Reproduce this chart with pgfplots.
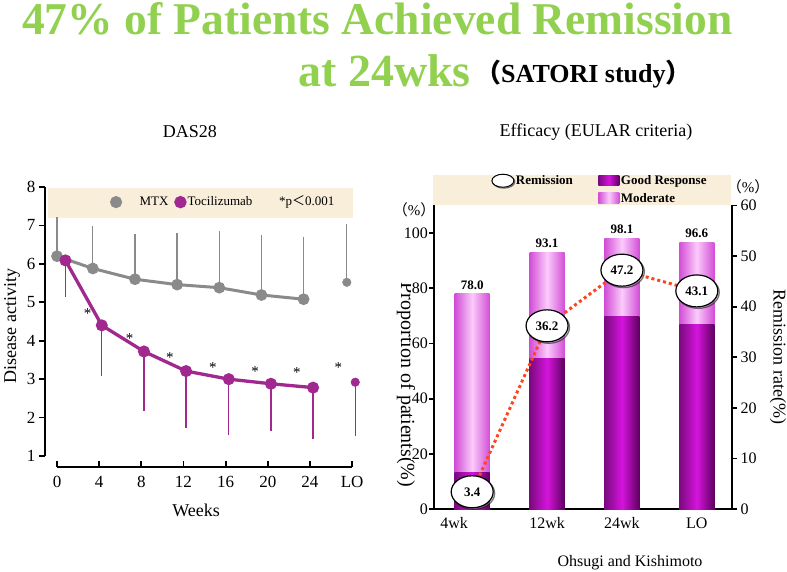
\documentclass[border=0pt]{standalone}
\usepackage{pgfplots}
\pgfplotsset{compat=1.18}
\usepackage{fontspec}
\setmainfont{Liberation Serif}
\newfontfamily\cjk{Noto Sans CJK JP}
\usetikzlibrary{shapes.geometric,shadows}
\newcommand{\fs}[1]{\fontsize{#1}{#1}\selectfont}
\definecolor{ttlgreen}{HTML}{92D050}
\definecolor{band}{HTML}{F8EEDA}
\definecolor{mtx}{HTML}{8A8A8A}
\definecolor{tcz}{HTML}{A0288E}
\definecolor{remred}{HTML}{FF4422}
\definecolor{gd1}{HTML}{7A0A7E}
\definecolor{gd2}{HTML}{D414DC}
\definecolor{gd3}{HTML}{5E005E}
\definecolor{md1}{HTML}{D24ED6}
\definecolor{md2}{HTML}{FBCBFB}
\pgfplotsset{
  goodbar/.style={bar shift=0pt, bar width=35pt, draw=none, left color=gd1, right color=gd3, middle color=gd2},
  modbar/.style={bar shift=0pt, bar width=35pt, draw=none, left color=md1, right color=md1, middle color=md2,
    nodes near coords, point meta=explicit symbolic,
    nodes near coords style={font=\bfseries\fs{13}, anchor=south, yshift=1pt, text=black}},
}
\begin{document}
\begin{tikzpicture}[x=1pt,y=1pt]
\path[use as bounding box] (0pt,0pt) rectangle (787pt,-572pt);
% titles
\node[anchor=base west, inner sep=0, text=ttlgreen, font=\bfseries\fs{45.5}] at (22pt,-35pt) {47\% of Patients Achieved Remission};
\node[anchor=base west, inner sep=0, text=ttlgreen, font=\bfseries\fs{46}] at (298pt,-87pt) {at 24wks};
\node[anchor=base west, inner sep=0, font=\bfseries\fs{26}] at (475pt,-83pt) {{\cjk （}SATORI study{\cjk ）}};
\node[font=\fs{18}] at (190pt,-132pt) {DAS28};
\node[font=\fs{18}] at (596pt,-132pt) {Efficacy (EULAR criteria)};
\node[font=\fs{16}] at (630pt,-563pt) {Ohsugi and Kishimoto};

% ---------------- left chart ----------------
\begin{axis}[
  at={(45pt,-467pt)}, anchor=south west, scale only axis,
  width=313.4pt, height=280pt,
  xmin=-1.14, xmax=28.6, ymin=0.714, ymax=8,
  axis lines*=left,
  axis line style={-, line width=2.2pt},
  x axis line style={shorten <=12pt, shorten >=6.3pt},
  y axis line style={shorten <=11pt},
  xtick={0,4,8,12,16,20,24,28}, xticklabels={0,4,8,12,16,20,24,LO},
  ytick={1,2,3,4,5,6,7,8},
  tick align=outside, major tick length=6pt,
  tick style={line width=1.8pt, black},
  xtick style={yshift=6pt},
  ticklabel style={font=\fs{17}},
  /pgf/number format/assume math mode=true,
  xlabel={Weeks},
  xlabel style={font=\fs{18}, at={(axis description cs:0.482,-0.154)}, anchor=center},
  ylabel={Disease activity},
  ylabel style={font=\fs{18}, at={(axis description cs:-0.105,0.504)}, anchor=center},
  legend columns=-1,
  legend style={at={(axis description cs:0.207,0.946)}, anchor=west, draw=none, fill=none,
    font=\fs{13}, inner sep=0pt, nodes={inner sep=1pt},
    /tikz/every even column/.append style={column sep=0pt}},
  clip=false,
]
\fill[band] (axis cs:-0.85,7.2) rectangle (axis cs:28.1,7.98);
\addplot[mtx, line width=3pt, mark=*, mark size=4.3pt, mark options={solid, fill=mtx, draw=mtx},
  error bars/.cd, y dir=plus, y explicit,
  error bar style={line width=1.3pt, mtx},
  error mark options={line width=1.3pt, mark size=3.5pt, mtx},
  /pgfplots/.cd,
  legend image code/.code={\path[draw=none, fill=none] (0pt,0pt) -- (27pt,0pt); \fill[mtx] (4.5pt,0pt) circle (4.5pt);}]
  coordinates {(0,6.2) +- (0,0.92) (3.4,5.88) +- (0,1.01) (7.4,5.6) +- (0,1.09) (11.4,5.46) +- (0,1.25)
               (15.4,5.38) +- (0,1.39) (19.4,5.19) +- (0,1.48) (23.4,5.08) +- (0,1.54)};
\addlegendentry{MTX}
\addplot[tcz, line width=3.3pt, mark=*, mark size=4.3pt, mark options={solid, fill=tcz, draw=tcz},
  error bars/.cd, y dir=minus, y explicit,
  error bar style={line width=1.3pt, tcz},
  error mark options={line width=1.3pt, mark size=3.5pt, tcz},
  /pgfplots/.cd,
  legend image code/.code={\path[draw=none, fill=none] (0pt,0pt) -- (16pt,0pt); \fill[tcz] (11pt,0pt) circle (4.5pt);}]
  coordinates {(0.8,6.09) +- (0,0.86) (4.25,4.40) +- (0,1.22) (8.25,3.72) +- (0,1.46) (12.25,3.21) +- (0,1.39)
               (16.3,3.0) +- (0,1.37) (20.3,2.88) +- (0,1.13) (24.3,2.78) +- (0,1.25)};
\addlegendentry{Tocilizumab}
\addplot[forget plot, mtx, only marks, mark=*, mark size=4.3pt, mark options={fill=mtx, draw=mtx},
  error bars/.cd, y dir=plus, y explicit,
  error bar style={line width=1.3pt, mtx},
  error mark options={line width=1.3pt, mark size=3.5pt, mtx}]
  coordinates {(27.5,5.52) +- (0,1.42)};
\addplot[forget plot, tcz, only marks, mark=*, mark size=4.3pt, mark options={fill=tcz, draw=tcz},
  error bars/.cd, y dir=minus, y explicit,
  error bar style={line width=1.3pt, tcz},
  error mark options={line width=1.3pt, mark size=3.5pt, tcz}]
  coordinates {(28.3,2.92) +- (0,1.32)};
\node[font=\fs{15}, inner sep=0pt] at (axis cs:2.9,4.7) {*};
\node[font=\fs{15}, inner sep=0pt] at (axis cs:6.9,4.05) {*};
\node[font=\fs{15}, inner sep=0pt] at (axis cs:10.7,3.56) {*};
\node[font=\fs{15}, inner sep=0pt] at (axis cs:14.8,3.3) {*};
\node[font=\fs{15}, inner sep=0pt] at (axis cs:18.8,3.2) {*};
\node[font=\fs{15}, inner sep=0pt] at (axis cs:22.75,3.17) {*};
\node[font=\fs{15}, inner sep=0pt] at (axis cs:26.7,3.3) {*};
\node[anchor=west, font=\fs{13}, inner sep=0pt] at (axis cs:21.06,7.61) {*p{\cjk ＜}0.001};
\end{axis}

% ---------------- right chart ----------------
\fill[band] (433pt,-175pt) rectangle (731pt,-205pt);
\node[rotate=-90, font=\fs{20}] at (406pt,-385pt) {Proportion of patients(\%)};
\node[font=\fs{15}] at (414pt,-210pt) {{\cjk （}\%{\cjk ）}};
\node[font=\fs{15}] at (748pt,-187pt) {{\cjk （}\%{\cjk ）}};

\begin{axis}[
  at={(434pt,-509pt)}, anchor=south west, scale only axis,
  width=298pt, height=303.6pt,
  xmin=-0.51, xmax=3.47, ymin=0, ymax=110,
  ybar,
  axis x line*=bottom, axis y line*=left,
  axis line style={-, line width=2.2pt},
  xtick={0,1,2,3}, xticklabels={4wk\hspace*{36pt},12wk,24wk,LO},
  xtick style={draw=none},
  ytick={0,20,40,60,80,100},
  tick align=outside, major tick length=5pt,
  ytick style={line width=1.8pt, black},
  ticklabel style={font=\fs{16}},
  yticklabel style={fill=white, inner sep=1pt},
  /pgf/number format/assume math mode=true,
  clip=false,
]
% total (good + moderate) bars, moderate shading
\addplot[modbar] coordinates {(0,78.0) [78.0]};
\addplot[modbar] coordinates {(1,93.1) [93.1]};
\addplot[modbar] coordinates {(2,98.1) [98.1]};
\addplot[modbar] coordinates {(3,96.6) [96.6]};
% good response bars
\addplot[goodbar] coordinates {(0,13.3)};
\addplot[goodbar] coordinates {(1,54.7)};
\addplot[goodbar] coordinates {(2,69.8)};
\addplot[goodbar] coordinates {(3,67.0)};
\end{axis}

\begin{axis}[
  at={(434pt,-509pt)}, anchor=south west, scale only axis,
  width=298pt, height=303.6pt,
  xmin=-0.51, xmax=3.47, ymin=0, ymax=60,
  axis y line*=right, axis x line=none,
  axis line style={-, line width=2.2pt},
  ytick={0,10,20,30,40,50,60},
  tick align=outside, major tick length=5pt,
  ytick style={line width=1.8pt, black},
  ticklabel style={font=\fs{16}},
  /pgf/number format/assume math mode=true,
  ylabel={Remission rate(\%)},
  ylabel style={font=\fs{18}, rotate=180, at={(axis description cs:1.154,0.5)}, anchor=center},
  legend columns=2, legend cell align=left,
  legend style={at={(axis description cs:0.155,1.105)}, anchor=north west, draw=none, fill=none,
    font=\bfseries\fs{13}, inner sep=0pt, row sep=4pt, nodes={inner sep=1.5pt},
    /tikz/every even column/.append style={column sep=24pt}},
  clip=false,
]
\addplot[forget plot, remred, line width=3pt, dash pattern=on 3pt off 3pt, mark=none,
  nodes near coords, point meta=explicit symbolic,
  nodes near coords style={ellipse, solid, draw=black, line width=1.2pt, fill=white, text=black,
    drop shadow={shadow xshift=1.5pt, shadow yshift=-1.5pt, fill=gray!70},
    minimum width=42pt, minimum height=32pt, inner sep=0pt, font=\bfseries\fs{13}, anchor=center}]
  coordinates {(0,3.4) [3.4] (1,36.2) [36.2] (2,47.2) [47.2] (3,43.1) [43.1]};
\addlegendimage{legend image code/.code={\node[ellipse, draw=black, line width=1pt, fill=white, minimum width=22pt, minimum height=13pt, inner sep=0pt, drop shadow={shadow xshift=1pt, shadow yshift=-1pt, fill=gray}] at (11pt,0pt) {};}}
\addlegendentry{Remission}
\addlegendimage{legend image code/.code={\path[draw=none, left color=gd1, right color=gd3, middle color=gd2] (0pt,-5pt) rectangle (21pt,5pt);}}
\addlegendentry{Good Response}
\addlegendimage{empty legend}
\addlegendentry{}
\addlegendimage{legend image code/.code={\path[draw=none, left color=md1, right color=md1, middle color=md2] (0pt,-5.5pt) rectangle (21pt,5.5pt);}}
\addlegendentry{Moderate}
\end{axis}
\end{tikzpicture}
\end{document}
